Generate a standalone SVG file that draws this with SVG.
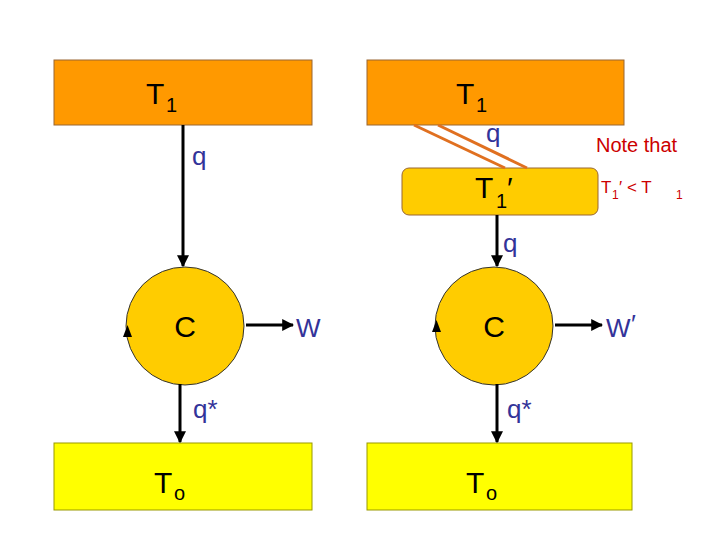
<svg xmlns="http://www.w3.org/2000/svg" width="720" height="540" viewBox="0 0 720 540">
<style>
text{font-family:"Liberation Sans",Arial,sans-serif}
.big{font-size:30px;fill:#000}
.sub{font-size:20px;fill:#000}
.lbl{font-size:26px;fill:#333399}
.red{fill:#CC0000}
.ln{stroke:#000;stroke-width:3;fill:none}
</style>
<defs>
<marker id="ah" viewBox="0 0 10 10" refX="9" refY="5" markerWidth="4" markerHeight="4" orient="auto"><path d="M0,0L10,5L0,10Z" fill="#000"/></marker>
</defs>
<rect width="720" height="540" fill="#fff"/>
<g id="hot1"><rect x="54" y="60" width="258" height="65" fill="#FF9900" stroke="#996633"/><text x="146" y="104" class="big">T</text><text x="166" y="112" class="sub">1</text></g>
<g id="hot2"><rect x="367" y="60" width="257" height="65" fill="#FF9900" stroke="#996633"/><text x="456" y="104" class="big">T</text><text x="476" y="112" class="sub">1</text></g>
<g id="mid"><rect x="402" y="168" width="196" height="47" rx="7" fill="#FFCC00" stroke="#996633"/><text x="475" y="198" class="big">T</text><text x="496" y="208" class="sub">1</text><text x="507" y="198" class="big">′</text></g>
<g id="c1"><circle cx="185" cy="326" r="59" fill="#FFCC00" stroke="#333"/><text x="185" y="337" class="big" text-anchor="middle">C</text><path d="M123,337L132,337L127.5,325Z" fill="#000"/></g>
<g id="c2"><circle cx="494" cy="326" r="59" fill="#FFCC00" stroke="#333"/><text x="494" y="337" class="big" text-anchor="middle">C</text><path d="M432,332L441,332L436.5,320Z" fill="#000"/></g>
<g id="cold1"><rect x="54" y="443" width="258" height="67" fill="#FFFF00" stroke="#999900"/><text x="154" y="493" class="big">T</text><text x="174" y="500" class="sub">o</text></g>
<g id="cold2"><rect x="367" y="443" width="265" height="67" fill="#FFFF00" stroke="#999900"/><text x="466" y="493" class="big">T</text><text x="486" y="500" class="sub">o</text></g>
<g id="connectors">
<line x1="183" y1="125" x2="183" y2="266" class="ln" marker-end="url(#ah)"/>
<line x1="497" y1="215" x2="497" y2="266" class="ln" marker-end="url(#ah)"/>
<line x1="246" y1="325" x2="293" y2="325" class="ln" marker-end="url(#ah)"/>
<line x1="555" y1="325" x2="602" y2="325" class="ln" marker-end="url(#ah)"/>
<line x1="180" y1="384" x2="180" y2="442" class="ln" marker-end="url(#ah)"/>
<line x1="497" y1="384" x2="497" y2="442" class="ln" marker-end="url(#ah)"/>
<line x1="414" y1="125" x2="505" y2="168" stroke="#E07020" stroke-width="3"/>
<line x1="438" y1="125" x2="527" y2="168" stroke="#E07020" stroke-width="3"/>
</g>
<text x="192" y="165" class="lbl">q</text>
<text x="486" y="142" class="lbl">q</text>
<text x="503" y="252" class="lbl">q</text>
<text x="296" y="337" class="lbl">W</text>
<text x="606" y="337" class="lbl">W</text><text x="631" y="333" class="lbl">′</text>
<text x="193" y="418" class="lbl">q*</text>
<text x="507" y="418" class="lbl">q*</text>
<text x="596" y="152" font-size="20" class="red">Note that</text>
<text x="601" y="193" font-size="17" class="red">T</text><text x="612" y="199" font-size="12" class="red">1</text><text x="619" y="193" font-size="17" class="red">′ &lt; T</text><text x="676" y="199" font-size="12" class="red">1</text>
</svg>
